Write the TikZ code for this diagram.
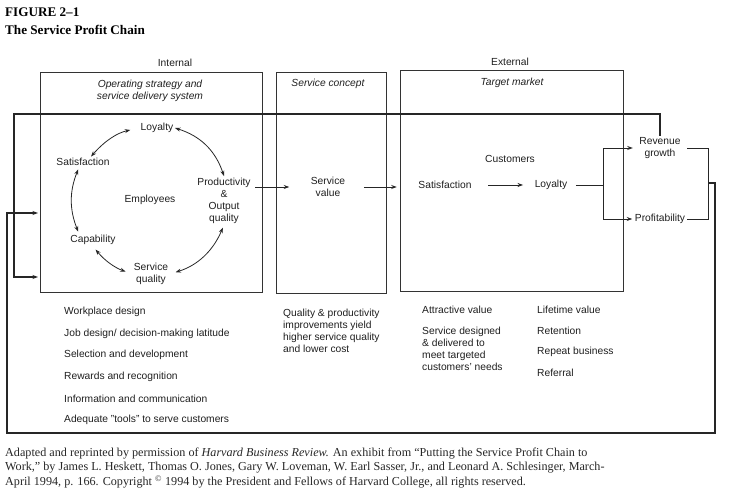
\documentclass[tikz,border=0pt]{standalone}
\usepackage{fontspec}
\setmainfont{Liberation Serif}
\setsansfont{Liberation Sans}
\usetikzlibrary{positioning,arrows.meta}

\begin{document}
\begin{tikzpicture}[x=1bp,y=-1bp,>={Stealth[length=5.5bp,width=4bp]},
	lbl/.style={font=\sffamily\fontsize{10.3}{12}\selectfont,align=center,text=black!88,inner sep=1.5bp},
	head/.style={lbl,font=\sffamily\itshape\fontsize{10.3}{12}\selectfont},
	item/.style={lbl,align=left,anchor=west,inner sep=0},
	panel/.style={draw=black!80,line width=0.6bp,inner sep=0},
	flow/.style={draw=black!85,line width=0.8bp},
	loopline/.style={draw=black!85,line width=1.1bp}]
	\useasboundingbox (0,0) rectangle (732,499);
		% title
		\node[anchor=west,inner sep=0,font=\bfseries\fontsize{13.2}{15}\selectfont] (fig) at (5,12) {FIGURE 2--1};
		\node[anchor=west,inner sep=0,font=\bfseries\fontsize{13.2}{15}\selectfont] (ttl) at (5,30) {The Service Profit Chain};
		% panels
		\node[panel,minimum width=222bp,minimum height=220bp] (ibox) at (151,182) {};
		\node[panel,minimum width=110bp,minimum height=221bp] (cbox) at (331,182.5) {};
		\node[panel,minimum width=223bp,minimum height=221bp] (tbox) at (511.5,180.5) {};
		\node[lbl] (int) at (175,63) {Internal};
		\node[lbl] (ext) at (510,62) {External};
		\node[head] (ops) at (150,90.5) {Operating strategy and\\service delivery system};
		\node[head] (scon) at (328,84) {Service concept};
		\node[head] (tmkt) at (512,83) {Target market};
		% employees
		\node[lbl] (loy) at (157,128) {Loyalty};
		\node[lbl] (sat) at (83,162) {Satisfaction};
		\node[lbl] (emp) at (150,200) {Employees};
		\node[lbl] (prod) at (224,200.5) {Productivity\\\&\\Output\\quality};
		\node[lbl] (cap) at (93,240) {Capability};
		\node[lbl] (sq) at (151,274) {Service\\quality};
		\draw[flow,<->] (loy.east) to[bend left=27] (prod.north);
		\draw[flow,<->,shorten <=9bp] (loy.west) to[bend right=18] ([xshift=8bp]sat.north);
		\draw[flow,<->,shorten <=2bp,shorten >=2bp] ([xshift=-4bp]sat.south) to[bend right=22] ([xshift=-14bp]cap.north);
		\draw[flow,<->,shorten <=4bp,shorten >=7bp] (cap.south) to[bend right=15] (sq.west);
		\draw[flow,<->,shorten <=6bp,shorten >=3bp] (sq.east) to[bend right=25] (prod.south);
		% service value and customers
		\node[lbl] (sv) at (328,187) {Service\\value};
		\node[lbl] (cust) at (510,159) {Customers};
		\node[lbl] (csat) at (445,185) {Satisfaction};
		\node[lbl] (cloy) at (551,185) {Loyalty};
		\node[lbl] (rev) at (660,148) {Revenue\\growth};
		\node[lbl] (prof) at (660,219) {Profitability};
		\draw[flow,->,shorten <=3bp,shorten >=20bp] (prod.east |- sv) -- (sv.west);
		\draw[flow,->,shorten <=17bp,shorten >=3bp] (sv.east) -- (tbox.west |- sv);
		\draw[flow,->,shorten <=15bp,shorten >=10bp] (csat.east) -- (cloy.west);
		\coordinate (fork) at (603,185);
		\coordinate (rb) at (708,183);
		\coordinate (br) at (715,433);
		\coordinate (bl) at (7,433);
		\coordinate (tl) at (14,114);
		\coordinate (in1) at (38,277);
		\coordinate (in2) at (38,213);
		\draw[flow,shorten <=7bp] (cloy.east) -- (fork);
		\draw[flow,->,shorten >=5bp] (fork) |- (rev.west);
		\draw[flow,->,shorten >=1bp] (fork) |- (prof.west);
		\draw[flow,shorten <=5bp] (rev.east) -| (rb) |- (prof.east);
		% feedback loops
		\draw[loopline,->] (rev.north) |- (tl) |- (in1);
		\draw[loopline,->] (rb) -| (br) -- (bl) |- (in2);
		% lists
		\node[item] (w1) at (64,312) {Workplace design};
		\node[item] (w2) at (64,334) {Job design/ decision-making latitude};
		\node[item] (w3) at (64,355) {Selection and development};
		\node[item] (w4) at (64,377) {Rewards and recognition};
		\node[item] (w5) at (64,399) {Information and communication};
		\node[item] (w6) at (64,420) {Adequate "tools" to serve customers};
		\node[item] (qp) at (283,330.5) {Quality \& productivity\\improvements yield\\higher service quality\\and lower cost};
		\node[item] (av) at (422,310) {Attractive value};
		\node[item] (sd) at (422,349) {Service designed\\\& delivered to\\meet targeted\\customers' needs};
		\node[item] (lv) at (537,310) {Lifetime value};
		\node[item] (ret) at (537,331) {Retention};
		\node[item] (rep) at (537,352) {Repeat business};
		\node[item] (ref) at (537,373) {Referral};
		% source note
		\node[anchor=west,inner sep=0,align=left,text=black!85,font=\fontsize{12.2}{15}\selectfont] (note) at (5,468) {Adapted and reprinted by permission of \emph{Harvard Business Review.} An exhibit from ``Putting the Service Profit Chain to\\Work,'' by James L. Heskett, Thomas O. Jones, Gary W. Loveman, W. Earl Sasser, Jr., and Leonard A. Schlesinger, March-\\April 1994, p. 166. Copyright \textsuperscript{\textcopyright} 1994 by the President and Fellows of Harvard College, all rights reserved.};
	\end{tikzpicture}
\end{document}
